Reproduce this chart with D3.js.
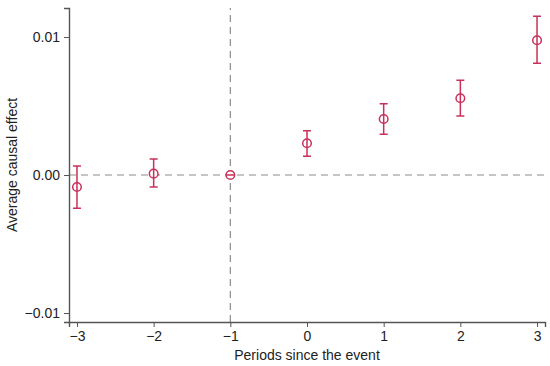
<!DOCTYPE html>
<html>
<head>
<meta charset="utf-8">
<script src="https://cdn.jsdelivr.net/npm/d3@7.9.0/dist/d3.min.js"></script>
<style>
  body { margin: 0; background: #fff; }
  svg text { font-family: "Liberation Sans", Arial, sans-serif; fill: #222; }
</style>
</head>
<body>
<svg id="chart" width="550" height="366"></svg>
<script>
// event-study estimates
const periods = [-3, -2, -1, 0, 1, 2, 3];
const estimates = [-0.00087, 0.0001, 0, 0.0023, 0.00406, 0.00556, 0.00976];
const ciLower = [-0.0024, -0.00087, 0, 0.00136, 0.00295, 0.00428, 0.0081];
const ciUpper = [0.00065, 0.00116, 0, 0.0032, 0.00517, 0.00686, 0.0115];
const yTicks = [-0.01, 0, 0.01];

const color = '#c9305a';
const margin = { left: 69, right: 5, top: 8, bottom: 44 };
const width = 550, height = 366;

const svg = d3.select('#chart');

const x = d3.scaleLinear()
  .domain([-3.104, 3.104])
  .range([margin.left, width - margin.right]);

const y = d3.scaleLinear()
  .domain([-0.01065, 0.0121])
  .range([height - margin.bottom, margin.top]);

// reference lines
svg.append('line')
  .attr('x1', x.range()[0]).attr('x2', x.range()[1])
  .attr('y1', y(0)).attr('y2', y(0))
  .attr('stroke', '#8c8c8c').attr('stroke-width', 1.2)
  .attr('stroke-dasharray', '7,5');

svg.append('line')
  .attr('x1', x(-1)).attr('x2', x(-1))
  .attr('y1', y.range()[0]).attr('y2', y.range()[1])
  .attr('stroke', '#8c8c8c').attr('stroke-width', 1.2)
  .attr('stroke-dasharray', '7,5');

// axes
const xAxis = svg.append('g')
  .attr('transform', `translate(0,${height - margin.bottom})`)
  .call(d3.axisBottom(x).tickValues(periods).tickSize(5).tickPadding(4)
    .tickFormat(d => d < 0 ? '\u2212' + Math.abs(d) : d));

const yAxis = svg.append('g')
  .attr('transform', `translate(${margin.left},0)`)
  .call(d3.axisLeft(y).tickValues(yTicks).tickSize(5).tickPadding(4)
    .tickFormat(d => d === 0 ? '0.00' : (d < 0 ? '\u22120.01' : '0.01')));

[xAxis, yAxis].forEach(g => {
  g.select('.domain').attr('stroke', '#555').attr('stroke-width', 1.4);
  g.selectAll('.tick line').attr('stroke', '#555');
  g.selectAll('.tick text').attr('font-size', 14).attr('fill', '#222');
});

// axis titles
svg.append('text')
  .attr('x', (x.range()[0] + x.range()[1]) / 2)
  .attr('y', 360)
  .attr('text-anchor', 'middle')
  .attr('font-size', 14)
  .text('Periods since the event');

svg.append('text')
  .attr('transform', `translate(17,${(y.range()[0] + y.range()[1]) / 2}) rotate(-90)`)
  .attr('text-anchor', 'middle')
  .attr('font-size', 14)
  .text('Average causal effect');

// error bars and markers
const rows = periods.map((p, i) => ({ p, est: estimates[i], lo: ciLower[i], hi: ciUpper[i] }));
const cap = 4;

const g = svg.append('g').attr('stroke', color).attr('stroke-width', 1.5).attr('fill', 'none');

g.selectAll('circle')
  .data(rows)
  .enter()
  .append('circle')
  .attr('cx', d => x(d.p))
  .attr('cy', d => y(d.est))
  .attr('r', 4.3)
  .attr('fill', 'white');

g.selectAll('.bar')
  .data(rows)
  .enter()
  .append('path')
  .attr('d', d => {
    const cx = x(d.p), y1 = y(d.hi), y2 = y(d.lo);
    return `M${cx - cap},${y1}H${cx + cap}M${cx},${y1}V${y2}M${cx - cap},${y2}H${cx + cap}`;
  });
</script>
</body>
</html>
